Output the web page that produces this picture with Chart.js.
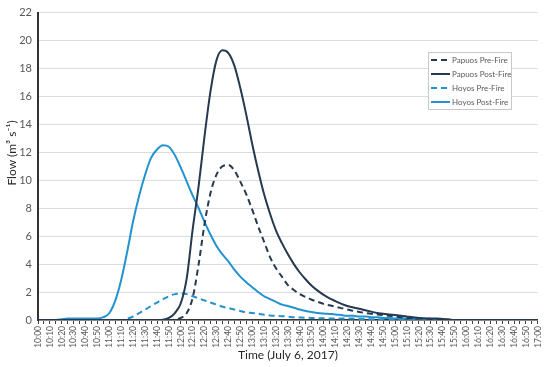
<!DOCTYPE html>
<html>
<head>
<meta charset="utf-8">
<script src="https://cdn.jsdelivr.net/npm/chart.js@4.4.1/dist/chart.umd.min.js"></script>
<style>
  html, body { margin: 0; padding: 0; background: #fff; }
  #wrap { width: 550px; height: 367px; position: relative; }
</style>
</head>
<body>
<div id="wrap"><canvas id="flowChart"></canvas></div>
<script>
// 5-minute steps, 10:00 -> 17:00
const times = [
  "10:00","10:05","10:10","10:15","10:20","10:25","10:30","10:35","10:40","10:45",
  "10:50","10:55","11:00","11:05","11:10","11:15","11:20","11:25","11:30","11:35",
  "11:40","11:45","11:50","11:55","12:00","12:05","12:10","12:15","12:20","12:25",
  "12:30","12:35","12:40","12:45","12:50","12:55","13:00","13:05","13:10","13:15",
  "13:20","13:25","13:30","13:35","13:40","13:45","13:50","13:55","14:00","14:05",
  "14:10","14:15","14:20","14:25","14:30","14:35","14:40","14:45","14:50","14:55",
  "15:00","15:05","15:10","15:15","15:20","15:25","15:30","15:35","15:40","15:45",
  "15:50","15:55","16:00","16:05","16:10","16:15","16:20","16:25","16:30","16:35",
  "16:40","16:45","16:50","16:55","17:00"
];

const papuosPre = [
  0,0,0,0,0,0,0,0,0,0,
  0,0,0,0,0,0,0,0,0,0,
  0,0,0,0.02,0.15,0.5,1.6,4.0,6.9,9.1,
  10.4,11.0,11.1,10.7,9.9,9.0,7.9,6.7,5.6,4.5,
  3.7,3.1,2.5,2.15,1.85,1.65,1.45,1.3,1.15,1.05,
  0.95,0.85,0.75,0.65,0.58,0.5,0.45,0.4,0.35,0.3,
  0.25,0.2,0.15,0.12,0.1,0.1,0.08,0.05,0,0,
  0,0,0,0,0,0,0,0,0,0,
  0,0,0,0,0
];

const papuosPost = [
  0,0,0,0,0,0,0,0,0,0,
  0,0,0,0,0,0,0,0,0,0,
  0,0.02,0.15,0.5,1.2,3.0,6.5,9.6,13.2,16.4,
  18.6,19.3,19.1,18.2,16.6,14.7,12.6,10.7,9.0,7.6,
  6.4,5.5,4.7,4.0,3.4,2.9,2.45,2.1,1.8,1.55,
  1.35,1.15,1.0,0.9,0.8,0.7,0.6,0.5,0.45,0.4,
  0.35,0.3,0.25,0.2,0.15,0.12,0.1,0.1,0.08,0.05,
  0,0,0,0,0,0,0,0,0,0,
  0,0,0,0,0
];

const hoyosPre = [
  0,0,0,0,0,0,0,0,0,0,
  0,0,0,0,0,0.1,0.25,0.5,0.75,1.0,
  1.25,1.5,1.7,1.85,1.9,1.85,1.7,1.55,1.4,1.25,
  1.1,0.95,0.85,0.75,0.65,0.55,0.5,0.45,0.38,0.33,
  0.3,0.27,0.24,0.2,0.18,0.16,0.15,0.13,0.12,0.11,
  0.1,0.1,0.1,0.1,0.08,0.07,0.06,0.05,0.05,0.04,
  0.03,0.02,0.01,0,0,0,0,0,0,0,
  0,0,0,0,0,0,0,0,0,0,
  0,0,0,0,0
];

const hoyosPost = [
  0,0,0,0,0.05,0.1,0.1,0.1,0.1,0.1,
  0.1,0.2,0.5,1.4,2.9,4.9,7.1,8.9,10.4,11.6,
  12.2,12.5,12.4,11.8,10.9,9.9,8.9,8.0,7.0,6.1,
  5.3,4.7,4.2,3.6,3.1,2.7,2.35,2.0,1.7,1.5,
  1.3,1.1,1.0,0.88,0.75,0.65,0.57,0.5,0.46,0.43,
  0.4,0.35,0.3,0.3,0.25,0.25,0.2,0.2,0.15,0.15,
  0.1,0.1,0.1,0.1,0.1,0.05,0.05,0.05,0.05,0,
  0,0,0,0,0,0,0,0,0,0,
  0,0,0,0,0
];

const darkBlue = "#26394f";
const lightBlue = "#2293cf";
const fontName = "Lato, 'Open Sans', sans-serif";

// legend box sitting inside the plot, top right
const boxLegend = {
  id: "boxLegend",
  afterDraw(chart) {
    const ctx = chart.ctx;
    const x = 428, y = 52, w = 83, h = 57;
    ctx.save();
    ctx.fillStyle = "#fff";
    ctx.fillRect(x, y, w, h);
    ctx.strokeStyle = "#c8c8c8";
    ctx.lineWidth = 1;
    ctx.strokeRect(x + 0.5, y + 0.5, w, h);
    ctx.font = "8px " + fontName;
    ctx.textBaseline = "middle";
    chart.data.datasets.forEach((ds, i) => {
      const ly = y + 8 + i * 14;
      ctx.beginPath();
      ctx.strokeStyle = ds.borderColor;
      ctx.lineWidth = 2;
      ctx.setLineDash(ds.borderDash ? [6, 4] : []);
      ctx.moveTo(x + 3, ly);
      ctx.lineTo(x + 22, ly);
      ctx.stroke();
      ctx.setLineDash([]);
      ctx.fillStyle = "#595959";
      ctx.fillText(ds.label, x + 24, ly);
    });
    ctx.restore();
  }
};

// y axis title, placed like the original (a bit above centre)
const yTitle = {
  id: "yTitle",
  afterDraw(chart) {
    const ctx = chart.ctx;
    ctx.save();
    ctx.translate(12, 153);
    ctx.rotate(-Math.PI / 2);
    ctx.font = "12px " + fontName;
    ctx.fillStyle = "#262626";
    ctx.textAlign = "center";
    ctx.textBaseline = "middle";
    ctx.fillText("Flow (m³ s⁻¹)", 0, 0);
    ctx.restore();
  }
};

const ctx = document.getElementById("flowChart").getContext("2d");
const flowChart = new Chart(ctx, {
  type: "line",
  data: {
    labels: times,
    datasets: [
      { label: "Papuos Pre-Fire", data: papuosPre, borderColor: darkBlue, borderDash: [6, 4] },
      { label: "Papuos Post-Fire", data: papuosPost, borderColor: darkBlue },
      { label: "Hoyos Pre-Fire", data: hoyosPre, borderColor: lightBlue, borderDash: [6, 4] },
      { label: "Hoyos Post-Fire", data: hoyosPost, borderColor: lightBlue }
    ]
  },
  options: {
    responsive: true,
    maintainAspectRatio: false,
    animation: false,
    devicePixelRatio: 1,
    elements: {
      point: { radius: 0 },
      line: { borderWidth: 2, cubicInterpolationMode: "monotone", fill: false }
    },
    layout: { padding: { top: 12, right: 9, left: 0, bottom: 2 } },
    plugins: {
      legend: { display: false },
      tooltip: { enabled: false }
    },
    scales: {
      x: {
        offset: false,
        grid: {
          display: true,
          drawOnChartArea: false,
          drawTicks: true,
          tickLength: 4,
          color: "#404040"
        },
        border: { display: true, color: "#333", width: 1.5 },
        ticks: {
          autoSkip: false,
          maxRotation: 90,
          minRotation: 90,
          padding: 2,
          color: "#595959",
          font: { family: fontName, size: 8.5 },
          callback: function (value, index) {
            return index % 2 === 0 ? this.getLabelForValue(value) : "";
          }
        },
        title: {
          display: true,
          text: "Time (July 6, 2017)",
          color: "#262626",
          font: { family: fontName, size: 12 },
          padding: { top: 0, bottom: 3 }
        },
        afterFit(scale) { scale.height = 45; }
      },
      y: {
        min: 0,
        max: 22,
        ticks: {
          stepSize: 2,
          color: "#595959",
          padding: 6,
          font: { family: fontName, size: 11 }
        },
        grid: { color: "#dcdcdc", drawTicks: false },
        border: { display: true, color: "#333", width: 2 },
        afterFit(scale) { scale.width = 38; }
      }
    }
  },
  plugins: [boxLegend, yTitle]
});
</script>
</body>
</html>
